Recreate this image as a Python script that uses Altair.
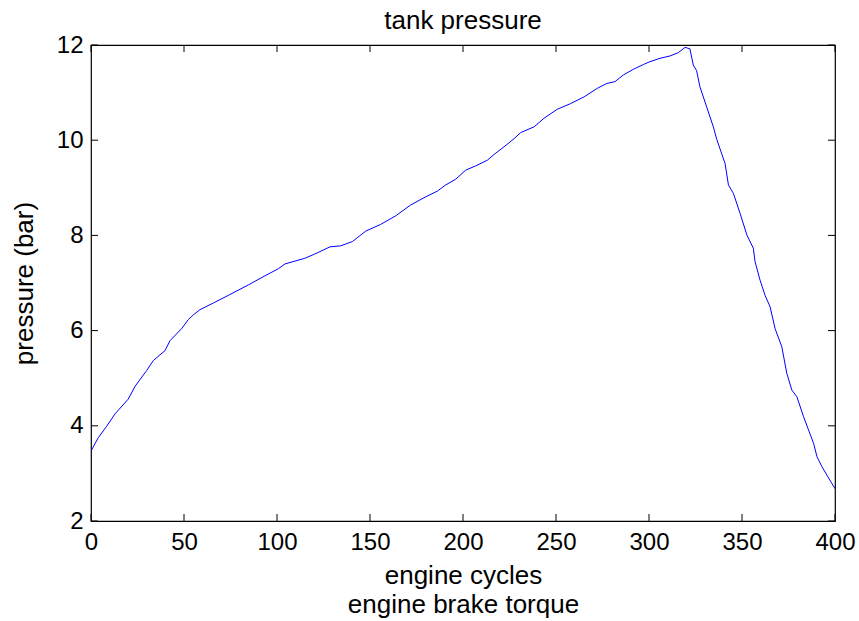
import altair as alt
import pandas as pd

cycles = [0, 3.9, 8.4, 12.9, 20, 23.7, 29.9, 33.5, 39.8, 42.5, 48.7, 52.3, 55, 58.6,
          65.8, 73.8, 84.6, 93.5, 100.7, 104.3, 115, 120.4, 128.5, 134.2, 140.5,
          147.7, 155.7, 163.8, 171.9, 179.9, 186.2, 190.7, 196.1, 201.4, 206.8,
          213.1, 216.7, 222, 227.4, 231, 238.2, 243.5, 250.7, 257.9, 265.1, 272.2,
          277.2, 281.7, 286.2, 291.6, 297, 300.5, 305.9, 311.3, 315.8, 319.4, 322,
          323.8, 325.6, 327.4, 331, 334.6, 336.4, 340.9, 342.7, 345.4, 349, 352.6,
          356.1, 357, 359.7, 362.4, 365.1, 367.8, 371.4, 374.1, 376.8, 379.5, 383.1,
          385.8, 388.5, 390.3, 393, 395.7, 400]
pressure = [3.47, 3.75, 3.99, 4.25, 4.56, 4.83, 5.16, 5.37, 5.58, 5.79, 6.04, 6.23, 6.33, 6.44,
            6.58, 6.74, 6.96, 7.15, 7.30, 7.40, 7.52, 7.61, 7.76, 7.78, 7.87,
            8.09, 8.23, 8.41, 8.64, 8.81, 8.93, 9.06, 9.18, 9.37, 9.46,
            9.58, 9.70, 9.86, 10.03, 10.16, 10.28, 10.46, 10.65, 10.77, 10.91, 11.09,
            11.19, 11.23, 11.37, 11.49, 11.59, 11.65, 11.72, 11.77, 11.84, 11.95, 11.92,
            11.58, 11.46, 11.12, 10.70, 10.28, 10.02, 9.51, 9.06, 8.88, 8.46, 8.01,
            7.73, 7.45, 7.06, 6.74, 6.50, 6.04, 5.66, 5.10, 4.75, 4.61, 4.19,
            3.91, 3.63, 3.35, 3.14, 2.96, 2.68]

x_ticks = [0, 50, 100, 150, 200, 250, 300, 350, 400]
y_ticks = [2, 4, 6, 8, 10, 12]

W, H = 744, 476
TL = 7
FONT = "Liberation Sans"

df = pd.DataFrame({"cycles": cycles, "pressure": pressure})
xt = pd.DataFrame({"tx": x_ticks})
yt = pd.DataFrame({"ty": y_ticks})

xscale = alt.Scale(domain=[0, 400], nice=False, zero=False)
yscale = alt.Scale(domain=[2, 12], nice=False, zero=False)

line = alt.Chart(df).mark_line(color="#0000ff", strokeWidth=1, clip=True).encode(
    x=alt.X("cycles:Q", scale=xscale,
            axis=alt.Axis(values=x_ticks, tickSize=0, domain=False, grid=False,
                          labelFont=FONT, labelFontSize=24, labelColor="black",
                          labelPadding=9, labelFlush=False,
                          title=["engine cycles", "engine brake torque"],
                          titleFont=FONT, titleFontSize=26, titleFontWeight="normal",
                          titleColor="black", titlePadding=8, titleLineHeight=29)),
    y=alt.Y("pressure:Q", scale=yscale,
            axis=alt.Axis(values=y_ticks, tickSize=0, domain=False, grid=False,
                          labelFont=FONT, labelFontSize=24, labelColor="black",
                          labelPadding=8, labelFlush=False,
                          title="pressure (bar)", titleFont=FONT, titleFontSize=26,
                          titleFontWeight="normal", titleColor="black", titlePadding=19)),
)

bx = alt.Chart(xt).mark_rule(color="black", strokeWidth=1).encode(
    x=alt.X("tx:Q", scale=xscale, axis=None), y=alt.value(H - TL), y2=alt.value(H))
tx = alt.Chart(xt).mark_rule(color="black", strokeWidth=1).encode(
    x=alt.X("tx:Q", scale=xscale, axis=None), y=alt.value(0), y2=alt.value(TL))
ly = alt.Chart(yt).mark_rule(color="black", strokeWidth=1).encode(
    y=alt.Y("ty:Q", scale=yscale, axis=None), x=alt.value(0), x2=alt.value(TL))
ry = alt.Chart(yt).mark_rule(color="black", strokeWidth=1).encode(
    y=alt.Y("ty:Q", scale=yscale, axis=None), x=alt.value(W - TL), x2=alt.value(W))

chart = alt.layer(line, bx, tx, ly, ry).resolve_axis(
    x="independent", y="independent"
).properties(
    width=W, height=H,
    title=alt.TitleParams("tank pressure", font=FONT, fontSize=26, fontWeight="normal",
                          color="black", anchor="middle", offset=-1),
    autosize=alt.AutoSizeParams(type="none"),
    padding={"left": 91, "top": 45, "right": 24, "bottom": 100},
    background="white",
).configure_view(stroke="black", strokeWidth=1.2)

chart.save("out.html", embed_options={"renderer": "svg", "actions": False})
